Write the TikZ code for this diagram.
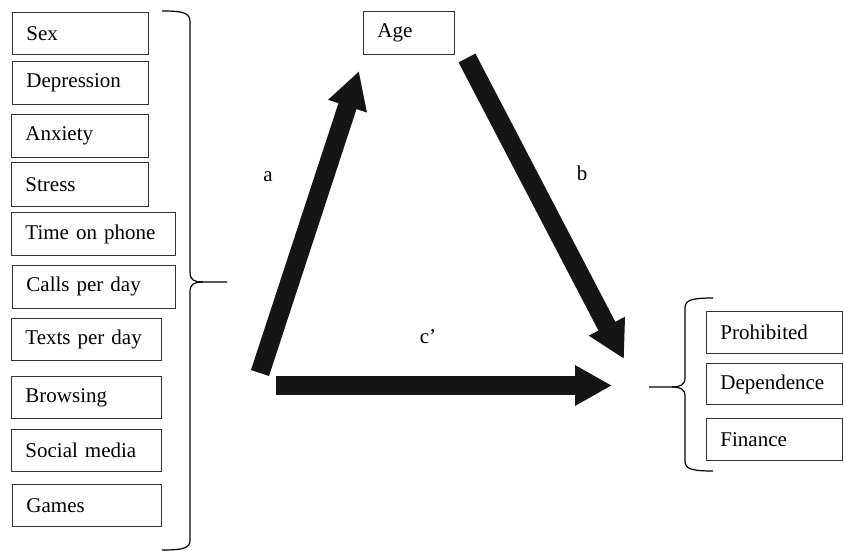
\documentclass[tikz,border=0pt]{standalone}
\usepackage{fontspec}
\setmainfont{Liberation Serif}
\usetikzlibrary{arrows.meta}
\definecolor{arrowc}{HTML}{151515}
\definecolor{boxline}{HTML}{333333}
\tikzset{
  box/.style={draw=boxline, line width=0.9pt, inner xsep=14pt, inner ysep=0pt,
    align=left, anchor=north west, font=\fontsize{21pt}{24pt}\selectfont},
  bigarrow/.style={draw=arrowc, line width=19pt,
    -{Triangle[width=38pt,length=37pt]}, arrowc},
  brace/.style={draw=black, line width=1.2pt},
  lab/.style={font=\fontsize{21pt}{24pt}\selectfont}
}
\begin{document}
\begin{tikzpicture}[x=1pt,y=-1pt]
\useasboundingbox (0,0) rectangle (843,551);
% left column
\node[box, text width=108pt, minimum height=42pt] (sex) at (12,12) {Sex};
\node[box, text width=108pt, minimum height=43pt] (dep) at (12,61) {Depression};
\node[box, text width=109pt, minimum height=43pt] (anx) at (11,114) {Anxiety};
\node[box, text width=109pt, minimum height=44pt] (str) at (11,162) {Stress};
\node[box, text width=136pt, minimum height=43pt] (time) at (11,212) {Time on phone};
\node[box, text width=135pt, minimum height=43pt] (calls) at (12,265) {Calls per day};
\node[box, text width=122pt, minimum height=42pt] (texts) at (11,318) {Texts per day};
\node[box, text width=122pt, minimum height=42pt] (brow) at (11,376) {Browsing};
\node[box, text width=122pt, minimum height=42pt] (soc) at (11,429) {Social media};
\node[box, text width=121pt, minimum height=42pt] (games) at (12,484) {Games};
% age
\node[box, text width=63pt, minimum height=43pt] (age) at (363,11) {Age};
% right column
\node[box, text width=108pt, minimum height=42pt] (proh) at (706,311) {Prohibited};
\node[box, text width=108pt, minimum height=41pt] (depd) at (706,363) {Dependence};
\node[box, text width=108pt, minimum height=42pt] (fin) at (706,418) {Finance};
% braces
\draw[brace] (162,11) .. controls (184,11) and (190,13) .. (190,22) -- (190,272)
  .. controls (190,280) and (194,282) .. (203,282) -- (227,282);
\draw[brace] (203,282) .. controls (194,282) and (190,284) .. (190,292) -- (190,540)
  .. controls (190,548) and (184,550) .. (162,550);
\draw[brace] (713,298) .. controls (692,298) and (685,300) .. (685,308) -- (685,378)
  .. controls (685,385) and (680,387) .. (672,387) -- (649,387);
\draw[brace] (672,387) .. controls (680,387) and (685,389) .. (685,396) -- (685,461)
  .. controls (685,469) and (692,471) .. (713,471);
% arrows
\coordinate (atail) at (260,373);
\coordinate (atip) at (359,71);
\coordinate (btail) at (467,58);
\coordinate (btip) at (624,359);
\coordinate (ctail) at (276,385.5);
\coordinate (ctip) at (612,385.5);
\draw[bigarrow] (atail) -- (atip);
\draw[bigarrow] (btail) -- (btip);
\draw[bigarrow] (ctail) -- (ctip);
% labels
\node[lab] (la) at (268,177) {a};
\node[lab] (lb) at (582,173) {b};
\node[lab] (lc) at (428,337) {c’};
\end{tikzpicture}
\end{document}
